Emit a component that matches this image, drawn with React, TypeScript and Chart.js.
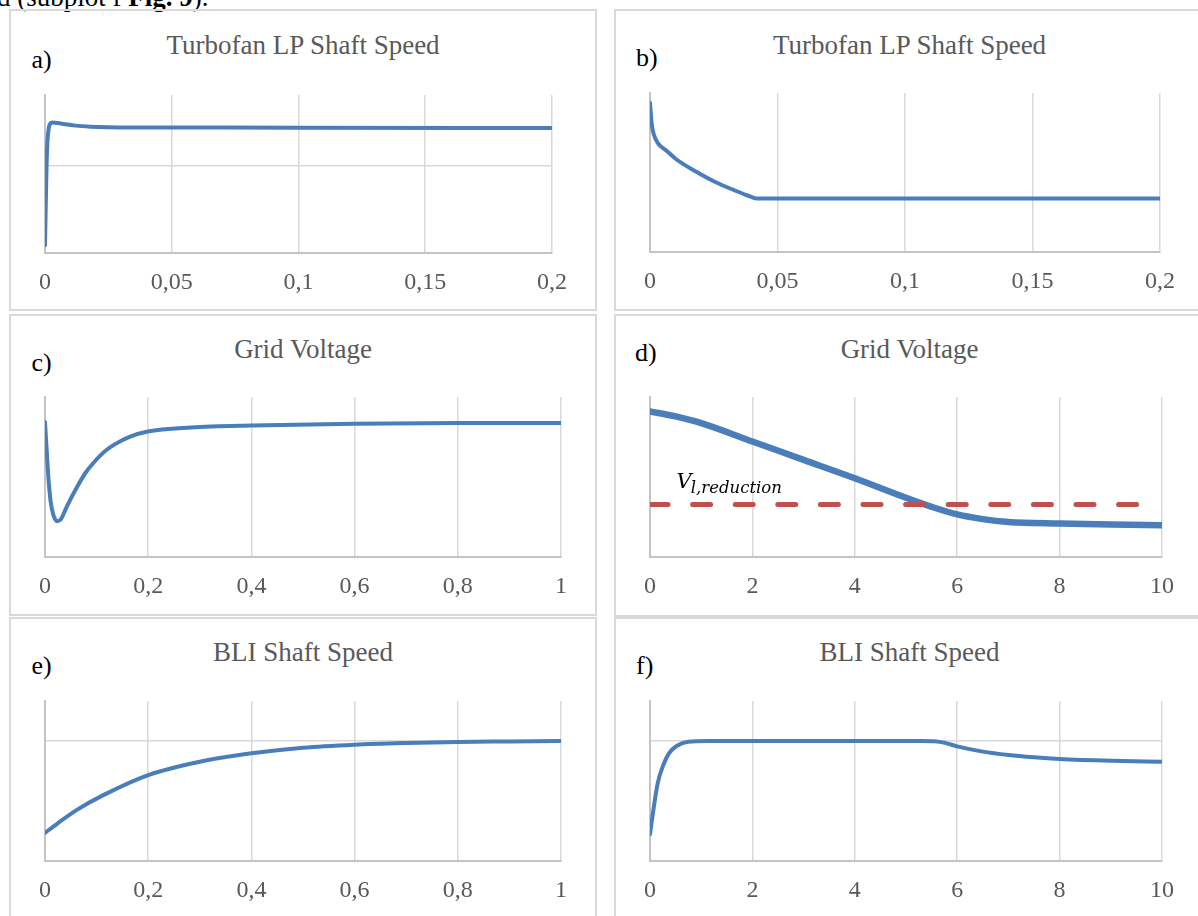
import React, { useEffect, useRef } from "react";
import { Chart, registerables } from "chart.js";

Chart.register(...registerables);

// ---------- data ----------
// a) Turbofan LP shaft speed, case 1
const aTime = [0, 0.0003, 0.0006, 0.001, 0.0015, 0.002, 0.003, 0.005, 0.008, 0.012, 0.018, 0.025, 0.035, 0.1, 0.2];
const aSpeed = [0.09, 0.55, 0.99, 1.3, 1.438, 1.484, 1.499, 1.494, 1.479, 1.464, 1.452, 1.445, 1.442, 1.441, 1.436];

// b) Turbofan LP shaft speed, case 2
const bTime = [0, 0.0007, 0.0015, 0.003, 0.0067, 0.0104, 0.018, 0.0256, 0.033, 0.038, 0.042, 0.1, 0.2];
const bSpeed = [1.501, 1.283, 1.182, 1.099, 1.014, 0.931, 0.81, 0.704, 0.622, 0.571, 0.538, 0.538, 0.538];

// c) Grid voltage, case 1
const cTime = [0, 0.003, 0.0067, 0.011, 0.0163, 0.0237, 0.031, 0.042, 0.061, 0.079, 0.098, 0.116, 0.135, 0.165, 0.199, 0.283, 0.4, 0.6, 0.8, 1.0];
const cVoltage = [1.349, 1.088, 0.787, 0.552, 0.419, 0.358, 0.379, 0.502, 0.69, 0.845, 0.965, 1.058, 1.126, 1.203, 1.255, 1.295, 1.315, 1.332, 1.339, 1.339];

// d) Grid voltage, case 2 + reduction threshold
const dTime = [0, 0.5, 1, 2, 3, 4, 5, 5.5, 6, 6.5, 7, 8, 9, 10];
const dVoltage = [1.456, 1.406, 1.339, 1.155, 0.971, 0.787, 0.592, 0.502, 0.426, 0.379, 0.351, 0.335, 0.325, 0.318];
const dThresholdTime = [0, 9.7];
const dThreshold = [0.524, 0.524];
const V_LABEL_X = 0.52;
const V_LABEL_Y = 0.687;

// e) BLI shaft speed, case 1
const eTime = [0, 0.024, 0.061, 0.113, 0.2, 0.3, 0.4, 0.5, 0.6, 0.7, 0.8, 0.9, 1.0];
const eSpeed = [0.234, 0.312, 0.424, 0.549, 0.716, 0.827, 0.897, 0.944, 0.969, 0.983, 0.992, 0.996, 1.0];

// f) BLI shaft speed, case 2
const fTime = [0, 0.075, 0.15, 0.26, 0.37, 0.52, 0.75, 1.12, 5.3, 5.55, 5.76, 6, 6.5, 7, 7.5, 8, 9, 10];
const fSpeed = [0.223, 0.451, 0.647, 0.8, 0.897, 0.958, 0.994, 1.0, 1.0, 0.997, 0.984, 0.955, 0.911, 0.883, 0.864, 0.85, 0.835, 0.827];

// tick settings
const xShortTicks = { min: 0, max: 0.2, step: 0.05 };
const xUnitTicks = { min: 0, max: 1, step: 0.2 };
const xLongTicks = { min: 0, max: 10, step: 2 };

// ---------- styles ----------
const BLUE = "#4a7ebb";
const RED = "#c0504d";
const GRID = "#d9d9d9";
const AXIS = "#c4c4c4";
const TEXT_GRAY = "#595959";
const FRAME = "#d9d9d9";
const SERIF = '"Liberation Serif", "Times New Roman", serif';

const PAD_L = 40;
const PAD_R = 40;
const PAD_T = 10;
const TICK_FONT = 24;
const TICK_PAD = 15.4;
const AXIS_H = TICK_FONT * 1.2 + TICK_PAD * 2;
const BOTTOM_SPACE = 66;

type Series = { xs: number[]; ys: number[]; color: string; width: number; dash?: number[] };

type PanelProps = {
  rect: { l: number; t: number; r: number; b: number };
  xTicks: { min: number; max: number; step: number };
  yMax: number;
  yStep: number;
  series: Series[];
  extraPlugins?: any[];
};

const fmt = (v: number) => String(Number(v.toFixed(4))).replace(".", ",");

const vLabelPlugin = {
  id: "vLabel",
  afterDatasetsDraw(chart: any) {
    const { ctx, scales } = chart;
    const px = scales.x.getPixelForValue(V_LABEL_X);
    const py = scales.y.getPixelForValue(V_LABEL_Y);
    ctx.save();
    ctx.fillStyle = "#000";
    ctx.textBaseline = "alphabetic";
    ctx.textAlign = "left";
    ctx.font = 'italic 21px "DejaVu Serif", "Liberation Serif", serif';
    ctx.fillText("V", px, py);
    const w = ctx.measureText("V").width;
    ctx.font = 'italic 16.5px "DejaVu Serif", "Liberation Serif", serif';
    ctx.fillText("l,reduction", px + w - 1, py + 5);
    ctx.restore();
  },
};

function Panel({ rect, xTicks, yMax, yStep, series, extraPlugins }: PanelProps) {
  const ref = useRef<HTMLCanvasElement | null>(null);
  const w = rect.r - rect.l;
  const h = rect.b - rect.t;
  const cw = w + PAD_L + PAD_R;
  const ch = PAD_T + h + BOTTOM_SPACE;
  const padB = BOTTOM_SPACE - AXIS_H;

  useEffect(() => {
    if (!ref.current) return;
    const chart = new Chart(ref.current, {
      type: "line",
      data: {
        datasets: series.map((s) => ({
          data: s.xs.map((x, i) => ({ x, y: s.ys[i] })),
          borderColor: s.color,
          borderWidth: s.width,
          borderDash: s.dash || [],
          borderCapStyle: "round",
          borderJoinStyle: "round",
          pointRadius: 0,
          fill: false,
          cubicInterpolationMode: s.dash ? "default" : "monotone",
          tension: 0,
        })),
      },
      options: {
        animation: false,
        responsive: false,
        maintainAspectRatio: false,
        devicePixelRatio: 1,
        layout: { padding: { left: PAD_L, right: PAD_R, top: PAD_T, bottom: padB } },
        plugins: {
          legend: { display: false },
          tooltip: { enabled: false },
          title: { display: false },
        },
        scales: {
          x: {
            type: "linear",
            min: xTicks.min,
            max: xTicks.max,
            ticks: {
              stepSize: xTicks.step,
              autoSkip: false,
              maxRotation: 0,
              padding: TICK_PAD,
              color: TEXT_GRAY,
              font: { family: SERIF, size: TICK_FONT },
              callback: (v: any) => fmt(Number(v)),
            },
            grid: {
              color: (c: any) => (c.tick && c.tick.value === xTicks.min ? "rgba(0,0,0,0)" : GRID),
              lineWidth: 1.5,
              drawTicks: false,
            },
            border: { display: true, color: AXIS, width: 2 },
          },
          y: {
            type: "linear",
            min: 0,
            max: yMax,
            ticks: { display: false, stepSize: yStep, includeBounds: false },
            grid: {
              color: (c: any) => (c.tick && c.tick.value === 0 ? "rgba(0,0,0,0)" : GRID),
              lineWidth: 1.5,
              drawTicks: false,
            },
            border: { display: true, color: AXIS, width: 2 },
          },
        },
      } as any,
      plugins: extraPlugins || [],
    });
    return () => chart.destroy();
  }, []);

  return (
    <canvas
      ref={ref}
      width={cw}
      height={ch}
      style={{ position: "absolute", left: rect.l - PAD_L, top: rect.t - PAD_T, width: cw, height: ch }}
    />
  );
}

const frames = [
  { l: 9, t: 9, w: 588, h: 302 },
  { l: 613.5, t: 9, w: 592, h: 302 },
  { l: 9, t: 313.5, w: 588, h: 302 },
  { l: 613.5, t: 313.5, w: 592, h: 303 },
  { l: 9, t: 616.5, w: 588, h: 400 },
  { l: 613.5, t: 616.5, w: 592, h: 400 },
];

const titles = [
  { text: "Turbofan LP Shaft Speed", frame: 0, baseline: 54.3 },
  { text: "Turbofan LP Shaft Speed", frame: 1, baseline: 54.3 },
  { text: "Grid Voltage", frame: 2, baseline: 358.3 },
  { text: "Grid Voltage", frame: 3, baseline: 358.3 },
  { text: "BLI Shaft Speed", frame: 4, baseline: 661.7 },
  { text: "BLI Shaft Speed", frame: 5, baseline: 661.7 },
];

const letters = [
  { text: "a)", x: 31.5, baseline: 68.3 },
  { text: "b)", x: 636, baseline: 66.7 },
  { text: "c)", x: 31.5, baseline: 371.7 },
  { text: "d)", x: 635, baseline: 361.7 },
  { text: "e)", x: 31.5, baseline: 675 },
  { text: "f)", x: 636, baseline: 675 },
];

const TITLE_SIZE = 27;
const LETTER_SIZE = 26;
const ASC = 0.8375;

export default function App() {
  return (
    <div
      style={{
        position: "fixed",
        left: 0,
        top: 0,
        width: 1198,
        height: 916,
        overflow: "hidden",
        background: "#fff",
        fontFamily: SERIF,
      }}
    >
      <div
        style={{
          position: "absolute",
          left: -3,
          top: 6.5 - ASC * 27,
          fontSize: 27,
          lineHeight: "27px",
          whiteSpace: "nowrap",
          color: "#000",
        }}
      >
        d (subplot f <b>Fig. 9</b>).
      </div>
      {frames.map((f, i) => (
        <div
          key={"f" + i}
          style={{
            position: "absolute",
            left: f.l,
            top: f.t,
            width: f.w,
            height: f.h,
            border: `2px solid ${FRAME}`,
            boxSizing: "border-box",
          }}
        />
      ))}
      {titles.map((t, i) => {
        const f = frames[t.frame];
        return (
          <div
            key={"t" + i}
            style={{
              position: "absolute",
              left: f.l,
              width: f.w,
              top: t.baseline - ASC * TITLE_SIZE,
              fontSize: TITLE_SIZE,
              lineHeight: TITLE_SIZE + "px",
              textAlign: "center",
              color: TEXT_GRAY,
              whiteSpace: "nowrap",
            }}
          >
            {t.text}
          </div>
        );
      })}
      {letters.map((t, i) => (
        <div
          key={"l" + i}
          style={{
            position: "absolute",
            left: t.x,
            top: t.baseline - ASC * LETTER_SIZE,
            fontSize: LETTER_SIZE,
            lineHeight: LETTER_SIZE + "px",
            color: "#000",
            whiteSpace: "nowrap",
          }}
        >
          {t.text}
        </div>
      ))}

      <Panel
        rect={{ l: 45, t: 95, r: 552, b: 253 }}
        xTicks={xShortTicks}
        yMax={1.816}
        yStep={1}
        series={[{ xs: aTime, ys: aSpeed, color: BLUE, width: 4 }]}
      />
      <Panel
        rect={{ l: 650, t: 93, r: 1160, b: 252 }}
        xTicks={xShortTicks}
        yMax={1.6}
        yStep={2}
        series={[{ xs: bTime, ys: bSpeed, color: BLUE, width: 4 }]}
      />
      <Panel
        rect={{ l: 45, t: 397, r: 561, b: 557 }}
        xTicks={xUnitTicks}
        yMax={1.6}
        yStep={2}
        series={[{ xs: cTime, ys: cVoltage, color: BLUE, width: 4 }]}
      />
      <Panel
        rect={{ l: 650, t: 397, r: 1162, b: 557 }}
        xTicks={xLongTicks}
        yMax={1.6}
        yStep={2}
        series={[
          { xs: dThresholdTime, ys: dThreshold, color: RED, width: 5, dash: [18, 24.6] },
          { xs: dTime, ys: dVoltage, color: BLUE, width: 6.5 },
        ]}
        extraPlugins={[vLabelPlugin]}
      />
      <Panel
        rect={{ l: 45, t: 701, r: 561, b: 861 }}
        xTicks={xUnitTicks}
        yMax={1.333}
        yStep={1}
        series={[{ xs: eTime, ys: eSpeed, color: BLUE, width: 4 }]}
      />
      <Panel
        rect={{ l: 650, t: 701, r: 1162, b: 861 }}
        xTicks={xLongTicks}
        yMax={1.333}
        yStep={1}
        series={[{ xs: fTime, ys: fSpeed, color: BLUE, width: 4 }]}
      />
    </div>
  );
}
